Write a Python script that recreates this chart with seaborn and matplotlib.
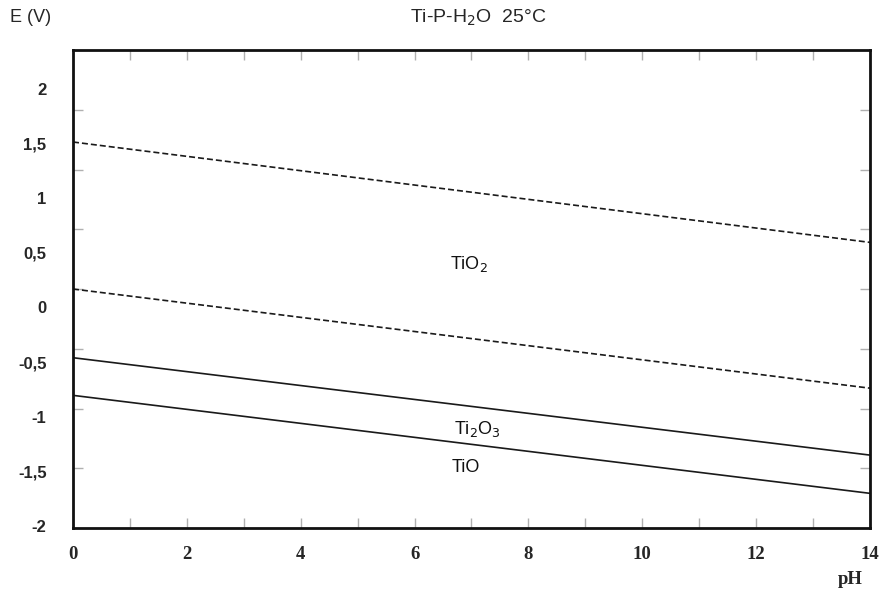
import matplotlib
matplotlib.use("Agg")
import matplotlib.pyplot as plt
import seaborn as sns
import pandas as pd
import numpy as np

# ---- data ----
ph = [0, 14]
o2_h2o = [1.23, 0.39]        # upper dashed (water oxidation)
h2_h2o = [0.0, -0.83]        # lower dashed (water reduction)
tio2_ti2o3 = [-0.575, -1.39] # upper solid
ti2o3_tio = [-0.89, -1.71]   # lower solid

line_names = ["O2/H2O", "H2O/H2", "TiO2/Ti2O3", "Ti2O3/TiO"]
line_values = [o2_h2o, h2_h2o, tio2_ti2o3, ti2o3_tio]
line_kinds = ["dashed", "dashed", "solid", "solid"]

region_labels = ["TiO$_2$", "Ti$_2$O$_3$", "TiO"]
region_x = [6.95, 7.1, 6.9]
region_y = [0.21, -1.17, -1.49]

x_tick_labels = ["0", "2", "4", "6", "8", "10", "12", "14"]
y_tick_values = [-2, -1.5, -1, -0.5, 0, 0.5, 1, 1.5, 2]
y_tick_labels = ["-2", "-1,5", "-1", "-0,5", "0", "0,5", "1", "1,5", "2"]

rows = []
for name, vals, kind in zip(line_names, line_values, line_kinds):
    for p, e in zip(ph, vals):
        rows.append({"pH": p, "E": e, "line": name, "kind": kind})
df = pd.DataFrame(rows)

sns.set_style("white")
plt.rcParams["font.family"] = ["Liberation Sans", "DejaVu Sans"]

W, H = 886, 595
fig = plt.figure(figsize=(W / 100, H / 100), dpi=100)
L, R, T, B = 73, 870, 50, 528
pos = [L / W, 1 - B / H, (R - L) / W, (B - T) / H]
ax = fig.add_axes(pos)

for name in line_names:
    sub = df[df["line"] == name]
    kind = sub["kind"].iloc[0]
    sns.lineplot(data=sub, x="pH", y="E", ax=ax, color="#1a1a1a",
                 lw=1.2, estimator=None, legend=False,
                 dashes=False, linestyle="--" if kind == "dashed" else "-")
for line in ax.lines:
    if line.get_linestyle() == "--":
        line.set_dashes((3.6, 1.8))

ax.set_xlim(0, 14)
ax.set_ylim(-2, 2)
ax.set_xlabel("")
ax.set_ylabel("")

for s in ax.spines.values():
    s.set_linewidth(2.0)
    s.set_color("#111111")

ax.set_xticks(np.arange(0, 15, 2))
ax.set_xticks(np.arange(1, 14, 2), minor=True)
ax.set_xticklabels(x_tick_labels, family="Liberation Serif",
                   fontweight="bold", fontsize=13.5)
ax.set_yticks(np.arange(-1.5, 2.0, 0.5))
ax.set_yticklabels([])
ax.tick_params(axis="both", which="both", direction="in", length=7,
               width=1, color="#b0b0b0", top=True, right=True,
               bottom=True, left=True)
ax.tick_params(axis="x", which="major", pad=13)

for lab, x, y in zip(region_labels, region_x, region_y):
    ax.text(x, y, lab, fontsize=13, ha="center", va="center", color="#111111")

# tick labels of the E axis, as placed in the original drawing
ax_lab = fig.add_axes(pos, sharex=None)
ax_lab.patch.set_visible(False)
for s in ax_lab.spines.values():
    s.set_visible(False)
ax_lab.set_xticks([])
ax_lab.set_ylim(-2.018, 2.354)
ax_lab.set_yticks(y_tick_values)
ax_lab.set_yticklabels(y_tick_labels, fontweight="bold", fontsize=12)
ax_lab.tick_params(axis="y", length=0, pad=19, left=True)

fig.text(478 / W, 1 - 18 / H, "Ti-P-H$_2$O  25\u00b0C", ha="center",
         va="center", fontsize=14)
fig.text(10 / W, 1 - 18 / H, "E (V)", ha="left", va="center", fontsize=13)
fig.text(850 / W, 1 - 580 / H, "pH", ha="center", va="center",
         family="Liberation Serif", fontweight="bold", fontsize=13.5)

fig.savefig("out.png", dpi=100)
